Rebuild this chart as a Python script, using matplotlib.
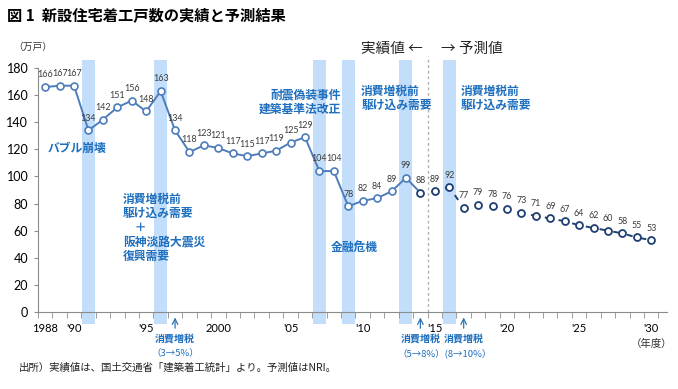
import matplotlib
matplotlib.use("Agg")
import matplotlib.pyplot as plt

plt.rcParams['font.family'] = ['Noto Sans CJK JP', 'DejaVu Sans']

# 新設住宅着工戸数（万戸）
years_actual = list(range(1988, 2015))
starts_actual = [166, 167, 167, 134, 142, 151, 156, 148, 163, 134, 118, 123, 121,
                 117, 115, 117, 119, 125, 129, 104, 104, 78, 82, 84, 89, 99, 88]
years_forecast = list(range(2014, 2031))
starts_forecast = [88, 89, 92, 77, 79, 78, 76, 73, 71, 69, 67, 64, 62, 60, 58, 55, 53]

band_years = [1991, 1996, 2007, 2009, 2013, 2016]
tax_years = [1997, 2014, 2017]
tick_years = [1988, 1990, 1995, 2000, 2005, 2010, 2015, 2020, 2025, 2030]
tick_labels = ['1988', "'90", "'95", '2000', "'05", "'10", "'15", "'20", "'25", "'30"]

BLUE_TXT = '#1f6fbf'
LINE = '#4d7dba'
NAVY = '#1f3f73'
BAND = '#c2defa'
NUM = ['Lato', 'Noto Sans CJK JP']

fig = plt.figure(figsize=(6.78, 3.89), dpi=100)
ax = fig.add_axes([0.056, 0.198, 0.928, 0.627])
ax.set_xlim(1987.5, 2031.1)
ax.set_ylim(0, 180)

for y in band_years:
    ax.bar(y, 195, bottom=-9, width=0.9, color=BAND, zorder=1, clip_on=False)

ax.plot(years_actual[:-1], starts_actual[:-1], color=LINE, lw=1.4, marker='o', ms=5,
        mfc='white', mec=LINE, mew=1.2, zorder=3)
ax.plot(years_actual[-2:], starts_actual[-2:], color=LINE, lw=1.4, zorder=2)
ax.plot(years_forecast, starts_forecast, color=NAVY, lw=1.4, ls=(1.5, (3, 4.2)),
        marker='o', ms=5, mfc='white', mec=NAVY, mew=1.3, zorder=3)

for x, v in zip(years_actual[:-1] + years_forecast, starts_actual[:-1] + starts_forecast):
    ax.annotate(str(v), (x, v), xytext=(0, 5.5), textcoords='offset points',
                ha='center', va='bottom', fontsize=6.4, color='#3a3a3a', family=NUM)

ax.axvline(2014.5, ymin=0, ymax=1.05, color='#b0b0b0', lw=1, ls=(0, (2, 2)),
           clip_on=False, zorder=0)

ax.spines['top'].set_visible(False)
ax.spines['right'].set_visible(False)
ax.spines['left'].set_color('#8c8c8c')
ax.spines['bottom'].set_color('#8c8c8c')
ax.set_yticks(range(0, 181, 20))
ax.tick_params(axis='y', length=3, color='#8c8c8c', labelsize=9, pad=4)
ax.set_xticks([y + 0.5 for y in range(1987, 2031)], minor=True)
ax.set_xticks(tick_years)
ax.set_xticklabels(tick_labels, family=NUM)
ax.tick_params(axis='x', which='major', length=0, labelsize=8, pad=8)
ax.tick_params(axis='x', which='minor', length=4, color='#8c8c8c', direction='out')
for lab in ax.get_yticklabels():
    lab.set_family(NUM)

# 消費増税の矢印
for x in tax_years:
    ax.annotate('', xy=(x, -2), xytext=(x, -14), annotation_clip=False,
                arrowprops=dict(arrowstyle='->', color='#2e75b6', lw=0.9))
    ax.text(x, -16, '消費増税', ha='center', va='top', fontsize=7.2,
            color=BLUE_TXT, fontweight='bold', clip_on=False)
ax.text(1997, -27, '（3→5%）', ha='center', va='top', fontsize=6.8,
        color=BLUE_TXT, clip_on=False)
ax.text(2015.7, -27, '（5→8%）(8→10%）', ha='center', va='top', fontsize=6.8,
        color=BLUE_TXT, clip_on=False)

bold = dict(color=BLUE_TXT, fontweight='bold', fontsize=8.5)
ax.text(1988.2, 120.5, 'バブル崩壊', ha='left', va='center', **bold)
ax.text(1993.4, 62, '消費増税前\n駆け込み需要\n　＋\n阪神淡路大震災\n復興需要',
        ha='left', va='center', linespacing=1.15, **bold)
ax.text(2008.5, 155, '耐震偽装事件\n建築基準法改正', ha='right', va='center',
        multialignment='right', linespacing=1.15, **bold)
ax.text(2007.8, 48, '金融危機', ha='left', va='center', **bold)
ax.text(2009.9, 157.5, '消費増税前\n駆け込み需要', ha='left', va='center',
        linespacing=1.15, **bold)
ax.text(2016.8, 157.5, '消費増税前\n駆け込み需要', ha='left', va='center',
        linespacing=1.15, **bold)
ax.text(2009.9, 194, '実績値 ←', ha='left', va='center', fontsize=10.5, color='#222222')
ax.text(2015.4, 194, '→ 予測値', ha='left', va='center', fontsize=10.5, color='#222222')

ax.text(2030, -20, '（年度）', ha='center', va='top', fontsize=7.5, color='#333333',
        clip_on=False)

fig.text(0.010, 0.962, '図 1  新設住宅着工戸数の実績と予測結果', ha='left', va='center',
         fontsize=11, fontweight='bold')
fig.text(0.020, 0.880, '（万戸）', ha='left', va='center', fontsize=7, color='#333333')
fig.text(0.028, 0.055, '出所）実績値は、国土交通省「建築着工統計」より。予測値はNRI。',
         ha='left', va='center', fontsize=7.5, color='#222222')

fig.savefig('out.png', dpi=100)
